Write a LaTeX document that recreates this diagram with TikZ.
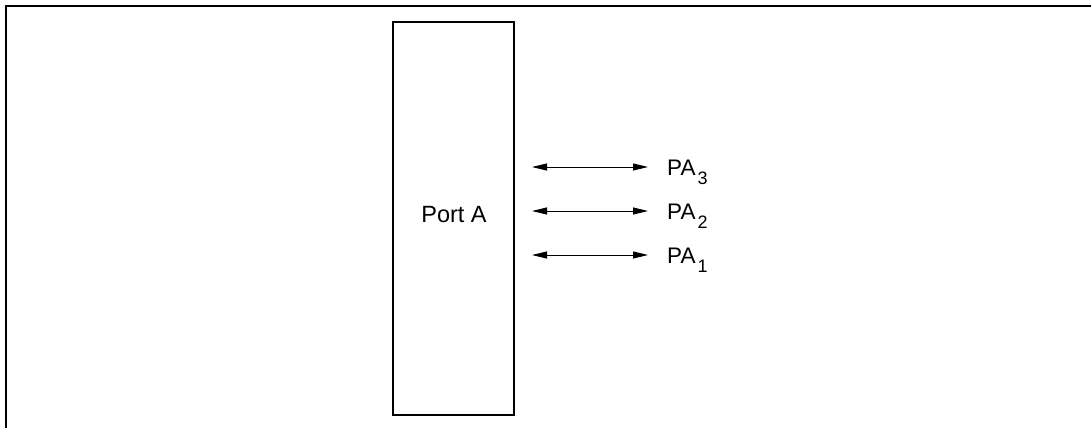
\documentclass[tikz,border=0pt]{standalone}
\usepackage{fontspec}
\setmainfont{Liberation Sans}
\usetikzlibrary{arrows.meta}
\begin{document}
\begin{tikzpicture}[x=1pt,y=-1pt,
  frame/.style={line width=1.5pt},
  portbox/.style={draw,line width=1.5pt,minimum width=121pt,minimum height=393pt,inner sep=0pt},
  bidir/.style={line width=1pt,{Triangle[length=15pt,width=7pt]}-{Triangle[length=15pt,width=7pt]}},
  palabel/.style={anchor=base west,inner sep=0pt}]
\useasboundingbox (0,0) rectangle (1091,428);
\coordinate (fl) at (6,428);
\coordinate (ftl) at (6,6);
\coordinate (ftr) at (1091,6);
\draw[frame] (fl) -- (ftl) -- (ftr);
\node[portbox] (port) at (453.5,218.5) {};
\node[anchor=base,inner sep=0pt,font=\fontsize{23.5}{26}\selectfont] (plabel) at (454,222) {Port A};
\foreach \i/\y in {3/167,2/211,1/255}{
  \coordinate (s\i) at (532,\y);
  \coordinate (e\i) at (648,\y);
  \draw[bidir] (s\i) -- (e\i);
  \node[palabel] (pa\i) at (667,\y+8.5) {\fontsize{22.5}{24}\selectfont PA\hspace{2pt}\raisebox{-9pt}{\fontsize{18}{18}\selectfont \i}};
}
\end{tikzpicture}
\end{document}
